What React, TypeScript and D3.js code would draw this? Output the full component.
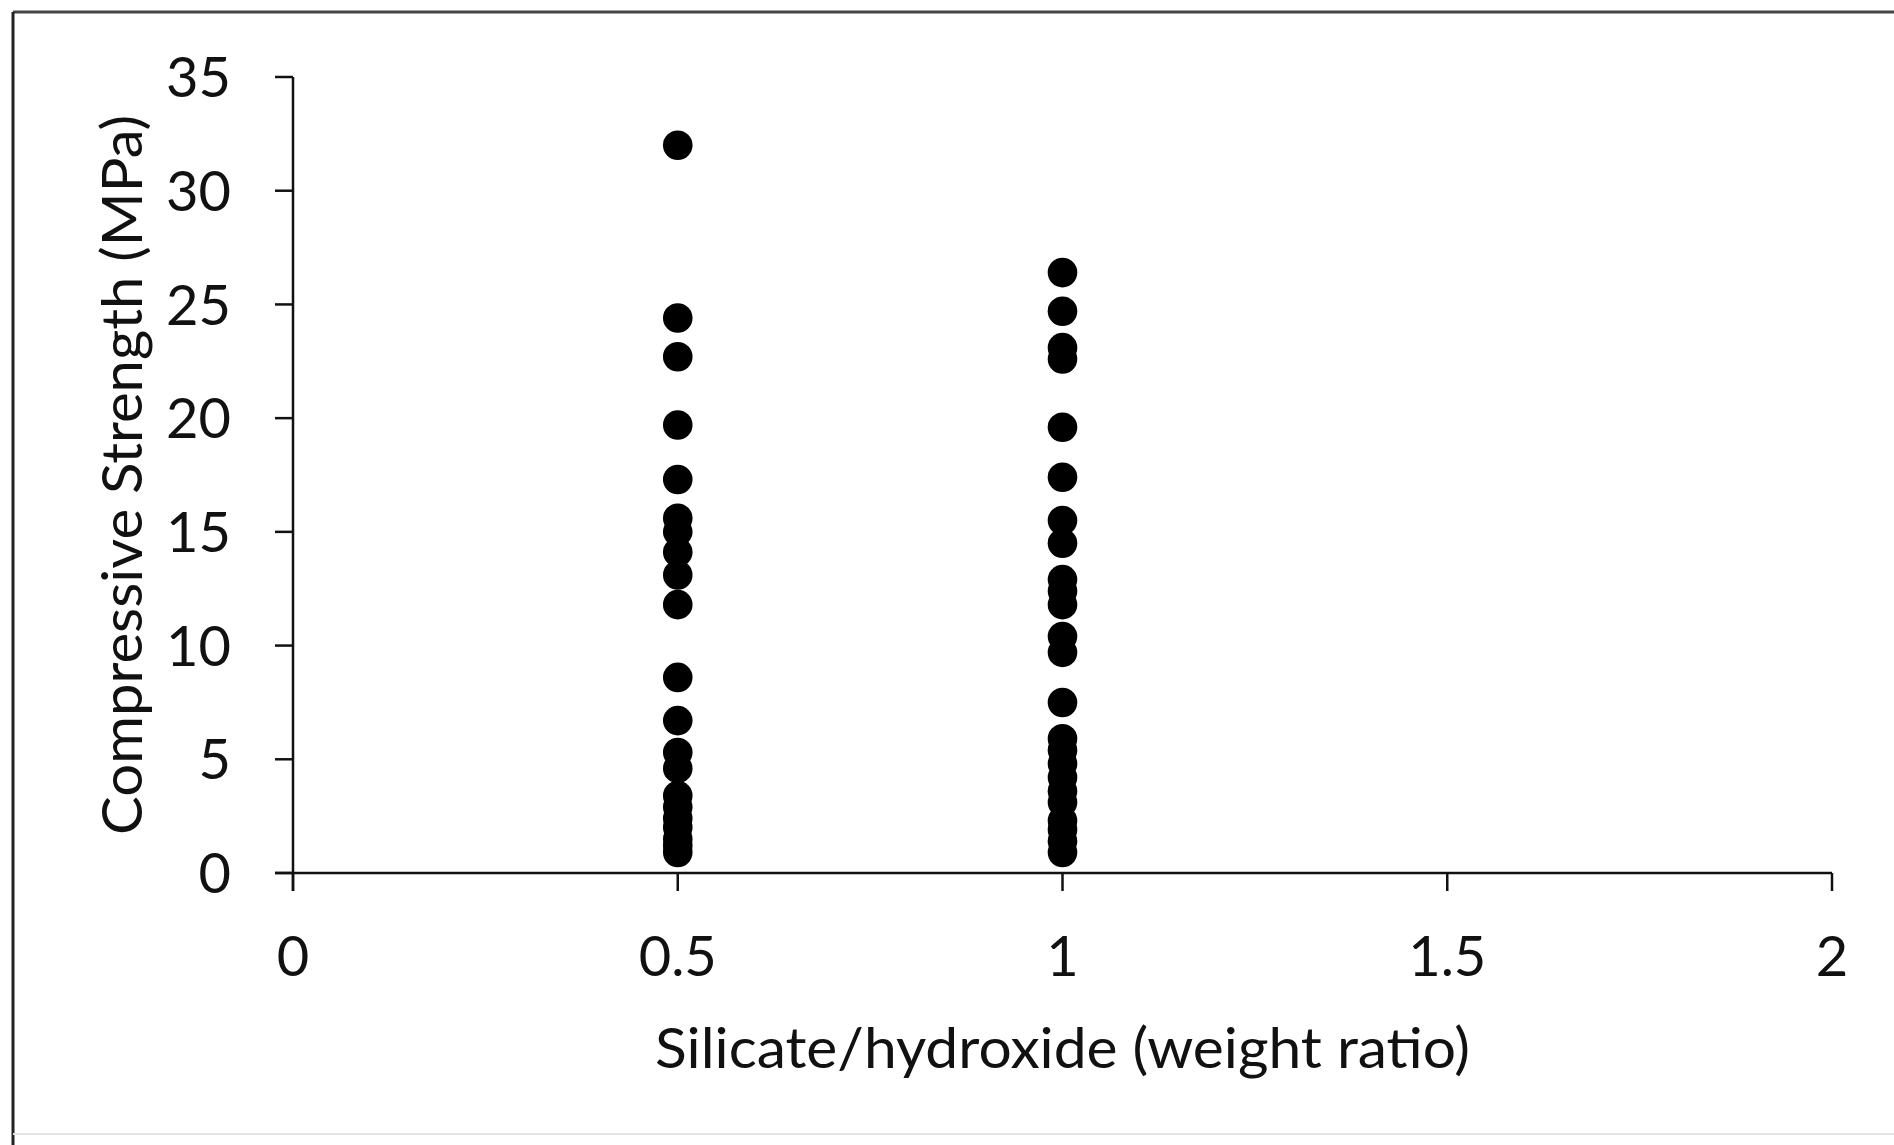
import React from "react";
import * as d3 from "d3";

// Silicate/hydroxide weight ratio groups and the measured compressive strengths (MPa)
const ratioGroups: number[] = [0.5, 1];

const strengthAtHalf: number[] = [
  32.0, 24.4, 22.7, 19.7, 17.3, 15.6, 15.0, 14.1, 13.1, 11.8, 8.6, 6.7, 5.3,
  4.6, 3.4, 2.9, 2.4, 2.0, 1.5, 1.2, 0.9,
];

const strengthAtOne: number[] = [
  26.4, 24.7, 23.1, 22.6, 19.6, 17.4, 15.5, 14.5, 12.9, 12.4, 11.8, 10.4, 9.7,
  7.5, 5.9, 5.4, 4.8, 4.2, 3.6, 3.1, 2.3, 1.9, 1.4, 0.9,
];

const xTicks: number[] = [0, 0.5, 1, 1.5, 2];
const yTicks: number[] = [0, 5, 10, 15, 20, 25, 30, 35];

const xTitle = "Silicate/hydroxide (weight ratio)";
const yTitle = "Compressive Strength (MPa)";

const W = 1894;
const H = 1145;
const FONT = "Lato, 'Open Sans', sans-serif";

export default function App() {
  const x = d3.scaleLinear().domain([0, 2]).range([293, 1832]);
  const y = d3.scaleLinear().domain([0, 35]).range([873, 77]);

  const points = [
    ...strengthAtHalf.map((v) => ({ r: ratioGroups[0], v })),
    ...strengthAtOne.map((v) => ({ r: ratioGroups[1], v })),
  ];

  const tickLen = 18;
  const axisColor = "#111";

  return (
    <svg
      width={W}
      height={H}
      style={{ position: "absolute", left: 0, top: 0, background: "#fff" }}
    >
      {/* frame */}
      <line x1={13} y1={12} x2={W} y2={12} stroke="#444" strokeWidth={3} />
      <line x1={13} y1={12} x2={13} y2={H} stroke="#222" strokeWidth={3} />
      <line x1={13} y1={1134} x2={W} y2={1134} stroke="#e4e4e4" strokeWidth={2} />

      {/* y axis */}
      <line x1={x(0)} y1={y(35)} x2={x(0)} y2={y(0) + tickLen} stroke={axisColor} strokeWidth={2.5} />
      {yTicks.map((t) => (
        <g key={"y" + t}>
          <line x1={x(0) - tickLen} x2={x(0)} y1={y(t)} y2={y(t)} stroke={axisColor} strokeWidth={2.5} />
          <text
            x={231}
            y={y(t)}
            dy="0.36em"
            textAnchor="end"
            fontFamily={FONT}
            fontSize={56}
            fill="#111"
          >
            {t}
          </text>
        </g>
      ))}

      {/* x axis */}
      <line x1={x(0) - tickLen} y1={y(0)} x2={x(2)} y2={y(0)} stroke={axisColor} strokeWidth={2.5} />
      {xTicks.map((t) => (
        <g key={"x" + t}>
          <line x1={x(t)} x2={x(t)} y1={y(0)} y2={y(0) + tickLen} stroke={axisColor} strokeWidth={2.5} />
          <text
            x={x(t)}
            y={976}
            textAnchor="middle"
            fontFamily={FONT}
            fontSize={56}
            fill="#111"
          >
            {t}
          </text>
        </g>
      ))}

      {/* axis titles */}
      <text
        x={(x(0) + x(2)) / 2}
        y={1068}
        textAnchor="middle"
        fontFamily={FONT}
        fontSize={57}
        fill="#111"
        textLength={815}
        lengthAdjust="spacingAndGlyphs"
      >
        {xTitle}
      </text>
      <text
        transform={`translate(142, ${(y(0) + y(35)) / 2}) rotate(-90)`}
        textAnchor="middle"
        fontFamily={FONT}
        fontSize={57}
        fill="#111"
        textLength={720}
        lengthAdjust="spacingAndGlyphs"
      >
        {yTitle}
      </text>

      {/* data points */}
      {points.map((p, i) => (
        <circle key={i} cx={x(p.r)} cy={y(p.v)} r={14.8} fill="#000" />
      ))}
    </svg>
  );
}
